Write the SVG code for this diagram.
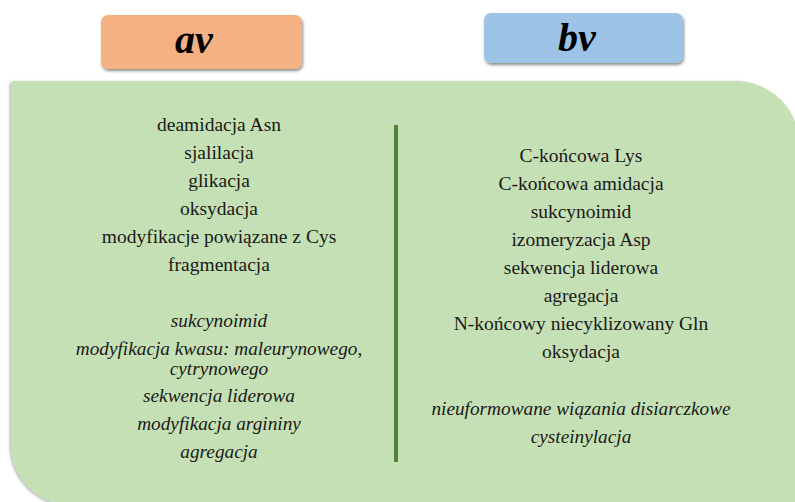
<svg xmlns="http://www.w3.org/2000/svg" width="795" height="502" viewBox="0 0 795 502">
<defs>
<filter id="sh" x="-10%" y="-10%" width="130%" height="140%">
<feDropShadow dx="1" dy="2" stdDeviation="1.5" flood-color="#000" flood-opacity="0.45"/>
</filter>
<filter id="sh2" x="-5%" y="-5%" width="110%" height="110%">
<feDropShadow dx="-1" dy="1" stdDeviation="1.5" flood-color="#000" flood-opacity="0.35"/>
</filter>
<style>
text{font-family:'Liberation Serif','Times New Roman',serif}
.t{font-size:19.5px;fill:#1a1a1a;text-anchor:middle}
.i{font-style:italic;font-size:19.3px}
.h{font-size:40px;font-weight:bold;font-style:italic;fill:#000;text-anchor:middle}
</style>
</defs>
<rect width="795" height="502" fill="#ffffff"/>
<g id="panel">
<path d="M14,81 H735 A65,65 0 0 1 800,146 V505 H71 A60,60 0 0 1 11,445 V84 A3,3 0 0 1 14,81 Z" fill="#C5E0B4" filter="url(#sh2)"/>
</g>
<g id="header-av">
<rect x="101" y="15" width="201" height="54" rx="7" fill="#F4B183" filter="url(#sh)"/>
<text class="h" x="194" y="53">av</text>
</g>
<g id="header-bv">
<rect x="484" y="13" width="199" height="50" rx="7" fill="#9DC3E6" filter="url(#sh)"/>
<text class="h" x="577" y="51">bv</text>
</g>
<g id="connectors">
<line x1="396" y1="125" x2="396" y2="462" stroke="#548235" stroke-width="4"/>
</g>
<g id="list-av">
<text class="t" x="219" y="131">deamidacja Asn</text>
<text class="t" x="219" y="159">sjalilacja</text>
<text class="t" x="219" y="187">glikacja</text>
<text class="t" x="219" y="215">oksydacja</text>
<text class="t" x="219" y="243">modyfikacje powiązane z Cys</text>
<text class="t" x="219" y="271">fragmentacja</text>
<text class="t i" x="219" y="327">sukcynoimid</text>
<text class="t i" x="219" y="355">modyfikacja kwasu: maleurynowego,</text>
<text class="t i" x="219" y="375">cytrynowego</text>
<text class="t i" x="219" y="402">sekwencja liderowa</text>
<text class="t i" x="219" y="430">modyfikacja argininy</text>
<text class="t i" x="219" y="458">agregacja</text>
</g>
<g id="list-bv">
<text class="t" x="581" y="162">C-końcowa Lys</text>
<text class="t" x="581" y="190">C-końcowa amidacja</text>
<text class="t" x="581" y="218">sukcynoimid</text>
<text class="t" x="581" y="246">izomeryzacja Asp</text>
<text class="t" x="581" y="274">sekwencja liderowa</text>
<text class="t" x="581" y="302">agregacja</text>
<text class="t" x="581" y="330">N-końcowy niecyklizowany Gln</text>
<text class="t" x="581" y="358">oksydacja</text>
<text class="t i" x="581" y="415">nieuformowane wiązania disiarczkowe</text>
<text class="t i" x="581" y="443">cysteinylacja</text>
</g>
</svg>
